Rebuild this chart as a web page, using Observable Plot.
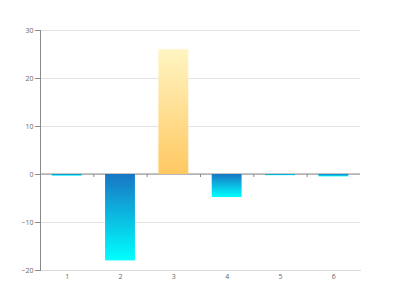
<!DOCTYPE html>
<html>
<head>
<meta charset="utf-8">
<script src="https://cdn.jsdelivr.net/npm/d3@7"></script>
<script src="https://cdn.jsdelivr.net/npm/@observablehq/plot@0.6"></script>
<style>
  html, body { margin: 0; padding: 0; background: #fff; }
  #chart svg { display: block; }
</style>
</head>
<body>
<div id="chart"></div>
<script>
const categories = ["1", "2", "3", "4", "5", "6"];
const values = [-0.35, -18, 26, -4.8, -0.25, -0.5];
const yTicks = [-20, -10, 0, 10, 20, 30];

const data = categories.map((c, i) => ({ cat: c, value: values[i] }));

const W = 400, H = 300, ML = 40, MR = 40, MT = 30, MB = 30;
const step = (W - ML - MR) / categories.length;

const plot = Plot.plot({
  width: W,
  height: H,
  marginLeft: ML,
  marginRight: MR,
  marginTop: MT,
  marginBottom: MB,
  style: { fontFamily: "'Open Sans', sans-serif", fontSize: "7px", color: "#666", background: "#fff" },
  x: { domain: categories, paddingInner: 0.44, paddingOuter: 0.22, round: false, label: null },
  y: { domain: [-20, 30], ticks: yTicks, label: null },
  color: { type: "identity" },
  marks: [
    Plot.gridY(yTicks, { stroke: "#e2e2e2", strokeOpacity: 1 }),
    Plot.frame({ anchor: "bottom", stroke: "#dcdcdc" }),
    Plot.ruleY([0], { stroke: "#8a8a8a", dy: -0.5 }),
    Plot.rectY(data, {
      x: "cat",
      y: "value",
      fill: d => d.value >= 0 ? "url(#gPos)" : "url(#gNeg)"
    }),
    Plot.ruleX(categories.slice(1), { x: d => d, y1: 0, y2: 0, insetBottom: -3, dx: -step / 2, stroke: "#8a8a8a" }),
    Plot.frame({ anchor: "left", stroke: "#8a8a8a" }),
    Plot.axisY({ ticks: yTicks, tickSize: 5, tickPadding: 2, stroke: "#8a8a8a", fill: "#666", label: null }),
    Plot.axisX({ tickSize: 0, tickPadding: 4, fill: "#666", label: null })
  ]
});

const svg = d3.select(plot);
const defs = svg.insert("defs", ":first-child");
const gNeg = defs.append("linearGradient").attr("id", "gNeg").attr("x1", 0).attr("y1", 0).attr("x2", 0).attr("y2", 1);
gNeg.append("stop").attr("offset", "0%").attr("stop-color", "#1776c4");
gNeg.append("stop").attr("offset", "100%").attr("stop-color", "#00ffff");
const gPos = defs.append("linearGradient").attr("id", "gPos").attr("x1", 0).attr("y1", 0).attr("x2", 0).attr("y2", 1);
gPos.append("stop").attr("offset", "0%").attr("stop-color", "#fff5c2");
gPos.append("stop").attr("offset", "100%").attr("stop-color", "#ffc862");

document.getElementById("chart").appendChild(plot);
</script>
</body>
</html>
